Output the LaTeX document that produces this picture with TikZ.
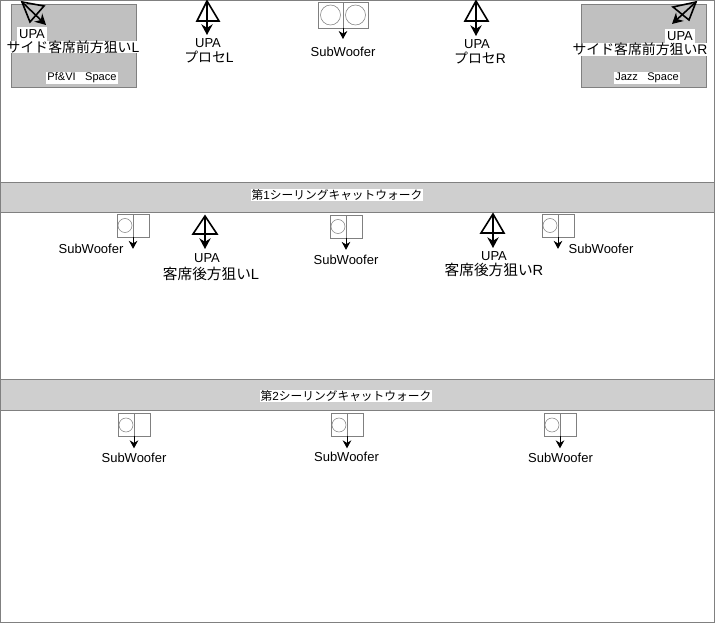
\documentclass[tikz,border=0pt]{standalone}
\usepackage{fontspec}
\setmainfont{Liberation Sans}
\newfontfamily\cjk{Noto Sans CJK JP}
\usetikzlibrary{arrows.meta,positioning}
\definecolor{linegray}{HTML}{808080}
\definecolor{bandgray}{HTML}{CFCFCF}
\definecolor{roomgray}{HTML}{C0C0C0}
\tikzset{
  band/.style={draw=linegray,fill=bandgray},
  room/.style={draw=linegray,fill=roomgray},
  word/.style={fill=white,inner sep=0pt,font=\fontsize{9.75pt}{11pt}\selectfont},
  boxword/.style={word,inner xsep=1.5pt,inner ysep=1.5pt},
  jword/.style={fill=white,inner sep=0pt,font=\fontsize{10.4pt}{11pt}\selectfont},
  jwide/.style={jword,font=\fontsize{11pt}{11pt}\selectfont},
  small/.style={fill=white,inner xsep=1pt,inner ysep=.5pt,font=\fontsize{8.3pt}{9pt}\selectfont},
  bandword/.style={fill=white,inner sep=.5pt,font=\fontsize{8.8pt}{10pt}\selectfont},
  horn/.style={draw=black,line width=1.2pt},
  throw/.style={line width=1.2pt,-{Stealth[length=8pt,width=8.5pt]}},
  subhalf/.style={draw=linegray,minimum width=12pt,minimum height=17pt,inner sep=0pt,outer sep=0pt},
  subbig/.style={draw=linegray,minimum width=18.75pt,minimum height=19.5pt,inner sep=0pt,outer sep=0pt},
  cone/.style={circle,draw=linegray,minimum size=10.5pt,inner sep=0pt},
  conebig/.style={circle,draw=linegray,minimum size=15pt,inner sep=0pt},
  drop/.style={line width=.6pt,-{Stealth[length=6pt,width=6.5pt]}}
}
\newcommand{\jp}[2]{{\cjk #1}#2}
\begin{document}
\begin{tikzpicture}[x=.75pt,y=-.75pt]
  \useasboundingbox (0,0) rectangle (715,623);
  \draw[linegray,fill=white] (.5,.5) rectangle (714.5,622.5);
  % rooms and catwalks
  \draw[room] (11.5,4.5) rectangle (136.5,87.5);
  \draw[room] (581.5,4.5) rectangle (706.5,87.5);
  \draw[band] (.5,182.5) rectangle (714.5,212.5);
  \draw[band] (.5,379.5) rectangle (714.5,410.5);
  \node[bandword] (walk1) at (337,195) {\jp{第}{1}\jp{シーリングキャットウォーク}{}};
  \node[bandword] (walk2) at (346,396) {\jp{第}{2}\jp{シーリングキャットウォーク}{}};
  \node[small] (pfvi) at (82,78) {Pf\&VI\hspace{7pt}Space};
  \node[small] (jazz) at (647,78) {Jazz\hspace{7pt}Space};
  % speakers with horns
  \foreach \name/\ax/\ay/\bx/\by/\cx/\cy/\tx/\ty in {
    sideL/22/2/44/6/30/22/46/25,
    sideR/696/2/673/7/689/20/672/24,
    proL/207/1/197/21/219/21/207/35,
    proR/476/1/465/21/488/21/476/36,
    rearL/205/216/193/234/217/234/205/249,
    rearR/493/214/481/233/504/233/493/248}{
    \coordinate (\name) at (\ax,\ay);
    \coordinate (\name tip) at (\tx,\ty);
    \draw[horn] (\name) -- (\bx,\by) -- (\cx,\cy) -- cycle;
    \path[throw] (\name) edge (\name tip);
  }
  \node[boxword] (sideLa) at (32,34) {UPA};
  \node[jword] (sideLb) at (73,47) {\jp{サイド客席前方狙い}{L}};
  \node[boxword] (sideRa) at (680,36) {UPA};
  \node[jword] (sideRb) at (640,49.5) {\jp{サイド客席前方狙い}{R}};
  \node[word] (proLa) at (208,43) {UPA};
  \node[jword] (proLb) at (209,57) {\jp{プロセ}{L}};
  \node[word] (proRa) at (477,44) {UPA};
  \node[jword] (proRb) at (480,58) {\jp{プロセ}{R}};
  \node[word] (rearLa) at (207,258) {UPA};
  \node[jwide] (rearLb) at (211,274) {\jp{客席後方狙い}{L}};
  \node[word] (rearRa) at (494,256) {UPA};
  \node[jwide] (rearRb) at (494,270) {\jp{客席後方狙い}{R}};
  % double subwoofer
  \node[subbig] (subTop) at (330.5,15) {};
  \node[subbig,right=0pt of subTop] (subTopr) {};
  \node[conebig] (subTopa) at (subTop) {};
  \node[conebig] (subTopb) at (subTopr) {};
  \coordinate (subToptip) at (343,39);
  \path[drop] (subTop.south east) edge (subToptip);
  \node[word] (subToplbl) at (343,52) {SubWoofer};
  % single subwoofers
  \foreach \name/\x/\y/\lx/\ly in {
    subA/125/225.5/91/249,
    subB/338/226.5/346/260,
    subC/550/225.5/601/249,
    subD/126/425/134/458,
    subE/339/425/346.5/457,
    subF/552/425/560.5/458}{
    \node[subhalf] (\name) at (\x,\y) {};
    \node[subhalf,right=0pt of \name] (\name r) {};
    \node[cone] (\name c) at (\name) {};
    \coordinate[below=9pt of \name.south east] (\name tip);
    \path[drop] (\name.south east) edge (\name tip);
    \node[word] (\name lbl) at (\lx,\ly) {SubWoofer};
  }
\end{tikzpicture}
\end{document}
